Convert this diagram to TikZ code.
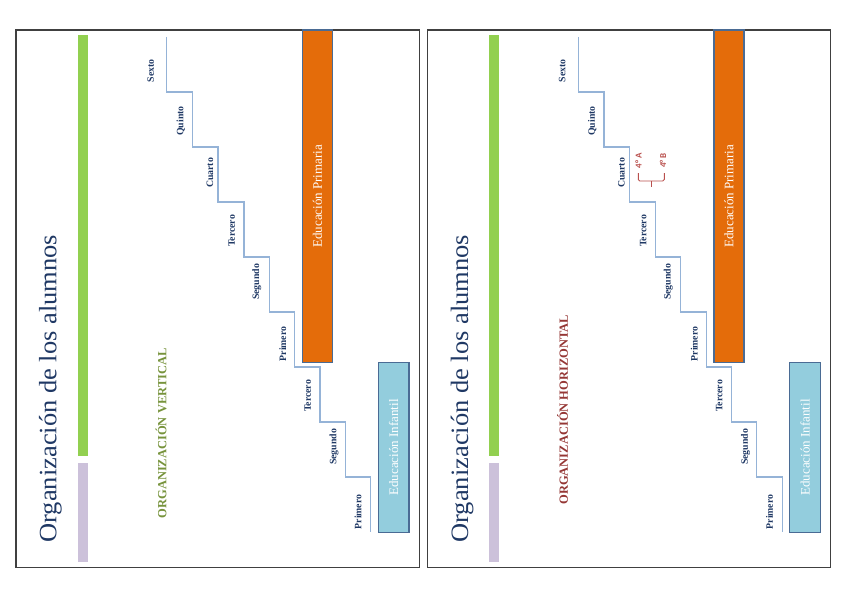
\documentclass[tikz,border=0pt]{standalone}
\usepackage{fontspec}
\setmainfont{Liberation Serif}
\newfontfamily\calibfont{Carlito}
\definecolor{navy}{HTML}{1F3864}
\definecolor{framegray}{HTML}{404040}
\definecolor{barg}{HTML}{92D050}
\definecolor{barp}{HTML}{CCC1DA}
\definecolor{orangefill}{HTML}{E46C0A}
\definecolor{bluefill}{HTML}{93CDDD}
\definecolor{boxborder}{HTML}{4A6B94}
\definecolor{stairc}{HTML}{95B3D7}
\definecolor{greentxt}{HTML}{77933C}
\definecolor{redtxt}{HTML}{953735}
\definecolor{redsoft}{HTML}{B9504D}
\begin{document}
\begin{tikzpicture}[x=1pt,y=-1pt,
  frame/.style={draw=framegray,line width=1.3pt},
  titletxt/.style={rotate=90,inner sep=0pt,text=navy,font=\fontsize{25}{27}\selectfont},
  lab/.style={rotate=90,inner sep=0pt,text=navy,font=\bfseries\fontsize{9.8}{11}\selectfont},
  stair/.style={draw=stairc,line width=1.1pt},
  edubox/.style={draw=boxborder,line width=1.4pt,inner sep=0pt,text=white,font=\fontsize{13}{15}\selectfont},
  orgtxt/.style={rotate=90,inner sep=0pt,font=\bfseries\fontsize{12.5}{14}\selectfont},
  smalltxt/.style={rotate=90,inner sep=0pt,text=redsoft,font=\calibfont\bfseries\fontsize{9}{10}\selectfont}
]
\useasboundingbox (0,0) rectangle (848,599);
\newcommand\drawpanel{%
  \draw[frame] (16,30) rectangle (419.3,567.7);
  \fill[barg] (77.7,35.3) rectangle (87.7,456.2);
  \fill[barp] (77.7,463.2) rectangle (87.7,562.2);
  \node[titletxt] (title) at (50.5,388.7) {\scalebox{1.06}[1]{Organización de los alumnos}};
  \draw[stair] (166.7,37) |- (192.5,92) |- (218,147) |- (244,202) |- (269.3,257)
     |- (294.7,312) |- (320,367) |- (345.3,422) |- (370.7,477) -- (370.7,532);
  \node[lab] (l6) at (150.7,71) {Sexto};
  \node[lab] (l5) at (180.7,121) {Quinto};
  \node[lab] (l4) at (210,173) {Cuarto};
  \node[lab] (l3) at (231.7,231) {Tercero};
  \node[lab] (l2) at (256.7,282) {Segundo};
  \node[lab] (l1) at (282.7,344) {Primero};
  \node[lab] (i3) at (307.7,396) {Tercero};
  \node[lab] (i2) at (334,447) {Segundo};
  \node[lab] (i1) at (358,512) {Primero};
  \node[edubox,fill=orangefill,minimum width=30pt,minimum height=332.5pt] (prim) at (317.5,196.25) {\rotatebox{90}{Educación Primaria}};
  \node[edubox,fill=bluefill,minimum width=30.7pt,minimum height=170pt] (inf) at (393.6,447.5) {\rotatebox{90}{Educación Infantil}};
}
\begin{scope}[name prefix=a-]
  \drawpanel
  \node[orgtxt,text=greentxt] (org) at (161,433.4) {ORGANIZACIÓN VERTICAL};
\end{scope}
\begin{scope}[xshift=411.5pt,name prefix=b-]
  \drawpanel
  \node[orgtxt,text=redtxt] (org) at (151,409.7) {ORGANIZACIÓN HORIZONTAL};
  \node[smalltxt] (ga) at (227,160.5) {4° A};
  \node[smalltxt] (gb) at (251.5,160.5) {4° B};
  \draw[redsoft,line width=0.9pt,rounded corners=1.5pt] (226.8,173) -- (226.8,181) -- (252.8,181) -- (252.8,173);
  \draw[redsoft,line width=0.9pt] (239.8,181) -- (239.8,187);
\end{scope}
\end{tikzpicture}
\end{document}
